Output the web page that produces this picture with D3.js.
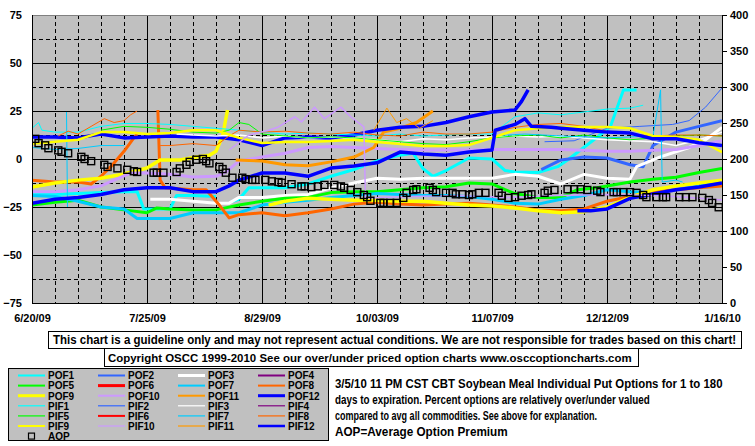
<!DOCTYPE html>
<html><head><meta charset="utf-8">
<script src="https://cdn.jsdelivr.net/npm/d3@7"></script>
<style>
body{margin:0;background:#fff}
text{font-family:Arial,"Liberation Sans",sans-serif;font-weight:bold;fill:#000}
</style></head>
<body><svg id="c" width="755" height="446"></svg>
<script>
// ---------- DATA ----------
const startDate = new Date(2009, 5, 20);
const endDate = new Date(2010, 0, 16);
const xTickDates = ["2009-06-20","2009-07-25","2009-08-29","2009-10-03","2009-11-07","2009-12-12","2010-01-16"];
const xTickLabels = ["6/20/09","7/25/09","8/29/09","10/03/09","11/07/09","12/12/09","1/16/10"];
const leftTicks = [-75,-50,-25,0,25,50,75];
const rightTicks = [0,50,100,150,200,250,300,350,400];

// each series: [days since 6/20/09, percent]; null breaks the line
const POF1 = [[0,-18],[7,-18.5],[14,-18],[21,-17.5],[28,-17],[32,-17],[34,-26],[42,-26],[44,-19],[49,-19],[56,-19.5],[58,null],[61,-22],[63,-21],[66,-15],[77,-15],[84,-13],[91,-9],[98,-5.5],[105,-1],[112,2],[116,3],[119,-5],[122,-9],[126,-6],[133,0.5],[140,0],[144,-6],[147,-6.8],[154,-7],[160,-4],[163,-0.5],[171,10],[176,16.7],[180,36],[184,36]];
const POF2 = [[155,-5.5],[161,-0.5],[168,1],[175,0.5],[182,-3],[186,-4],[189,7],[196,14],[203,17],[210,20]];
const POF3 = [[36,-21],[42,-21],[49,-22],[56,-23],[60,-23],[63,-20],[70,-20],[77,-19],[84,-18.5],[91,-15],[98,-12.5],[105,-10],[112,-10.5],[119,-10],[126,-10],[133,-10],[140,-10],[147,-8],[154,-9],[161,-13],[168,-8],[175,-10],[182,-10.5],[184,-4],[191,1],[200,6],[205,10],[210,16.5]];
const POF5 = [[0,-24],[7,-22.5],[14,-21.5],[21,-25],[28,-26.5],[35,-28],[38,-25.5],[42,-26],[49,-26.5],[56,-26.5],[63,-24],[70,-22],[77,-20.5],[84,-20],[91,-17.5],[98,-17],[105,-17],[112,-16],[119,-15],[126,-14.5],[133,-12.5],[140,-13],[144,-16],[147,-18],[154,-20],[161,-20],[166,-16],[172,-15],[182,-12],[189,-10.5],[196,-9.5],[203,-7],[210,-5]];
const POF7 = [[0,-19],[7,-19.5],[14,-22],[21,-25],[28,-26],[32,-31],[42,-31],[49,-28],[56,-28],[63,-28],[70,-24],[77,-22.5],[84,-21.5],[91,-20],[98,-19],[105,-18],[112,-18.5],[119,-19],[126,-19],[133,-19.5],[140,-21],[147,-23],[154,-23.5],[161,-21],[168,-19],[175,-16],[182,-17],[189,-17.5],[196,-16],[203,-14],[210,-11]];
const POF8 = [[0,-11],[7,-12],[14,-12],[18,-13],[21,-9],[24,-4],[28,4],[31,11],[32,13],[33,null],[38.3,25.5],[39,-11],[40.5,-15],[49,-16],[53,-16],[57,-24],[60,-30.7],[63,-29],[70,-28],[77,-29.5],[84,-28],[91,-26],[98,-23.5],[105,-22.5],[112,-23.5],[119,-24],[126,-23.5],[133,-23],[140,-24],[147,-25],[154,-26.5],[161,-27],[168,-26],[175,-22],[182,-19.5],[189,-17],[196,-16],[203,-15],[210,-14]];
const POF9 = [[0,-14.6],[7,-12.5],[14,-11],[21,-10],[28,-7.8],[35,-4.7],[39,-0.5],[45,-0.5],[50,1],[54,2],[56,4],[58,12],[59.5,25.5],[60,null],[72,-24],[77,-22],[84,-20.5],[91,-21],[98,-21.5],[105,-21.5],[112,-22],[119,-22],[126,-23],[133,-24],[140,-24.5],[147,-25.5],[154,-27],[161,-28],[168,-27.5],[175,-25],[182,-20],[189,-16],[196,-14],[203,-12.5],[210,-11]];
const POF10 = [[0,-17],[7,-17],[14,-16],[21,-14],[25,-11],[30,-7.3],[35,-7.3],[42,-8],[49,-9.4],[56,-9],[59,-6.8],[63,-1],[70,1],[77,3],[84,6],[91,6.5],[98,6],[105,5.5],[112,5],[119,4.7],[126,4.7],[133,4.7],[140,5],[147,5],[154,5],[161,5],[168,4.5],[175,4],[182,4],[189,4.5],[196,5],[203,7],[210,9.5]];
const POF11 = [[62,-0.5],[70,-1],[77,-3],[84,-3.5],[91,-1.5],[98,1],[104,6],[107,14],[112,16],[117,19],[122,25]];
const POF12 = [[0,11.5],[7,11.5],[14,11],[21,13],[28,11],[35,11.5],[42,12],[49,11.5],[56,11.5],[63,10],[70,7],[77,11],[84,11.5],[91,11],[98,12.5],[105,15],[112,16.5],[119,17],[126,19],[133,22],[140,24.5],[147,25.5],[149,30],[151,36],[152,null],[166,-27],[170,-27],[175,-26],[182,-20.5],[189,-18.2],[196,-16],[203,-14.6],[210,-12.5]];

const PIF1 = [[0,16],[2,19],[3,15],[7,14],[14,14],[21,17],[28,18.5],[35,18.5],[42,18],[49,17],[56,16],[63,15],[70,14],[77,13],[84,13.5],[91,13],[98,12.5],[105,12],[112,13],[119,12],[126,12.5],[133,13],[140,13],[147,22],[154,24],[161,23],[168,24.5],[175,26],[182,26.5],[186,28]];
const PIF2 = [[156,9],[165,9.5],[175,16],[185,17],[195,18],[200,20],[205,27],[210,37]];
const PIF3 = [[44,13],[49,12.5],[56,12],[63,12.5],[70,11],[77,12],[84,11],[91,11.5],[98,11],[105,10],[112,9],[119,10.5],[126,10],[133,11],[140,11.5],[147,12],[154,11.5],[161,12],[168,11],[175,10],[182,9.5],[189,9],[196,7],[203,10],[210,14]];
const PIF5 = [[21,15],[28,17],[35,16.5],[42,15.5],[49,14],[56,13.5],[60,15],[63,19],[66,18],[70,13],[77,12],[84,11],[91,11.5],[98,11],[105,10],[112,9],[119,8],[126,7.5],[133,9],[140,11],[147,12],[154,12.5],[161,11],[168,12.5],[175,11],[182,10],[189,11],[196,12],[203,12.5],[210,12]];
const PIF7 = [[0,6],[7,5],[14,5.5],[21,7],[28,7],[29,null],[10.5,24.5],[10.8,-25],[11,null],[140,12],[150,13],[161,12],[175,11],[189,12],[191.3,36],[191.8,-12],[196,-11],[198,-12]];
const PIF8 = [[8,12],[11,14.5],[14,13],[18,17],[22,21],[25,19],[28,20],[30,23],[32,25],[33,null],[39,7],[42,7],[49,8],[56,7],[60,12],[63,15],[70,14],[77,14.5],[84,13.5],[91,13],[98,14],[105,12.5],[112,12],[119,14],[126,13],[133,13],[140,14],[147,16.5],[154,18],[161,18.5],[168,17],[175,14.5],[182,13],[189,12],[196,12.5],[203,12.5],[210,12]];
const PIF9 = [[0,8],[7,9],[14,10],[21,14],[28,14],[35,13],[42,13.5],[49,15],[56,15],[63,11],[70,8.3],[77,8.9],[84,8.9],[91,9.4],[98,10],[105,8.9],[112,7.8],[119,6.8],[126,6.8],[133,7.3],[140,11],[147,15],[154,16],[161,16.7],[168,16.7],[175,16.7],[182,16],[189,12],[196,11.5],[203,10],[210,3.6]];
const PIF10 = [[60,4.7],[66,12.5],[72,15],[75,16.7],[80,22],[82,19.3],[86,27],[89,21],[94,27],[97,22],[101,16.7],[101.5,-20.5],[106,-20],[115,-19.5],[130,-19],[145,-20],[160,-19],[175,-18.5],[190,-19],[200,-20],[210,-21.4]];
const PIF11 = [[104,15],[108,26.5],[111,19],[114,21],[118,16],[122,20]];
const PIF12 = [[0,-23],[7,-21],[14,-20],[21,-18.5],[28,-16],[35,-15],[42,-15],[49,-17],[56,-17],[60,-14],[63,-11],[70,-7.3],[77,-7.3],[84,-9],[91,-4.7],[98,-3.6],[105,-2],[112,3.6],[119,2.6],[126,2],[133,3.6],[140,4.7],[141,15],[147,18],[150,21],[152,17],[158,16.5],[161,16],[168,15],[175,14],[182,13.5],[189,10.5],[196,10.5],[203,8.5],[210,7]];

// Average Option Premium (right axis)
const aopDays = [1,2,4,5,8,9,11,15,16,18,22,23,26,29,31,32,37,38,40,44,45,47,48,50,52,53,54,57,58,59,61,64,65,67,68,71,73,75,76,79,82,83,85,87,89,92,94,95,97,99,101,102,103,106,107,109,111,113,114,116,117,121,122,123,126,128,129,131,133,134,136,138,142,143,145,147,149,151,152,156,157,159,163,165,167,169,172,173,177,178,180,182,184,186,187,190,192,193,197,199,201,204,206,207,209];
const aopValues = [228,222,219,215,212,210,208,203,200,197,192,189,187,185,183,182,181,181,181,182,187,192,196,199,200,197,194,189,186,181,174,174,172,171,171,171,169,168,167,165,162,162,161,162,164,164,162,160,157,154,150,147,142,139,139,139,139,146,153,157,158,160,157,154,153,153,151,151,150,151,153,153,153,149,146,147,149,150,151,153,156,157,158,158,158,157,156,154,154,154,154,154,153,150,147,147,147,147,147,147,147,146,143,139,133];

const legendNames = ["POF1","POF2","POF3","POF4","POF5","POF6","POF7","POF8","POF9","POF10","POF11","POF12",
                     "PIF1","PIF2","PIF3","PIF4","PIF5","PIF6","PIF7","PIF8","PIF9","PIF10","PIF11","PIF12"];
const seriesData = {POF1,POF2,POF3,POF4:[],POF5,POF6:[],POF7,POF8,POF9,POF10,POF11,POF12,
                    PIF1,PIF2,PIF3,PIF4:[],PIF5,PIF6:[],PIF7,PIF8,PIF9,PIF10,PIF11,PIF12};

const disclaimer = "This chart is a guideline only and may not represent actual conditions. We are not responsible for trades based on this chart!";
const copyright = "Copyright OSCC 1999-2010 See our over/under priced option charts www.osccoptioncharts.com";
const noteLines = ["3/5/10 11 PM CST CBT Soybean Meal Individual Put Options for 1 to 180",
                   "days to expiration. Percent options are relatively over/under valued",
                   "compared to avg all commodities. See above for explanation.",
                   "AOP=Average Option Premium"];

// ---------- STYLE ----------
const palette = ["#00FFFF","#3366FF","#FFFFFF","#800080","#00FF00","#FF0000","#00CCFF","#FF6600","#FFFF00","#CC99FF","#FF9900","#0000FF"];
const plotWidthPOF = 3, plotWidthPIF = 1;
const wideSeries = {POF12:3.5, PIF12:3.5, POF9:3.5, PIF9:2.5, PIF10:1.5, PIF3:1.5};
const legendW = {POF3:3,POF6:3,POF9:3,POF12:3,PIF6:2,PIF9:2,PIF12:2.5};

// ---------- CHART ----------
const L = 32, R = 722, T = 15, B = 303;
const svg = d3.select("#c");
const dayToDate = d => new Date(+startDate + d * 864e5);
const x = d3.scaleTime().domain([startDate, endDate]).range([L, R]);
const y = d3.scaleLinear().domain([-75, 75]).range([B, T]);
const yR = d3.scaleLinear().domain([0, 400]).range([B, T]);

svg.append("rect").attr("x", L).attr("y", T).attr("width", R - L).attr("height", B - T).attr("fill", "#C0C0C0");

const grid = svg.append("g").attr("shape-rendering", "crispEdges");
grid.selectAll(".h").data(d3.range(-62.5, 75, 12.5)).join("line")
  .attr("x1", L).attr("x2", R)
  .attr("y1", d => Math.round(y(d)) + 0.5).attr("y2", d => Math.round(y(d)) + 0.5)
  .attr("stroke", "#000").attr("stroke-width", 1)
  .attr("stroke-dasharray", d => d % 25 === 0 ? null : "4,3");
grid.selectAll(".v").data(d3.range(1, 30)).join("line")
  .attr("x1", i => Math.round(x(dayToDate(7 * i))) + 0.5).attr("x2", i => Math.round(x(dayToDate(7 * i))) + 0.5)
  .attr("y1", T).attr("y2", B)
  .attr("stroke", "#000").attr("stroke-width", 1)
  .attr("stroke-dasharray", i => i % 5 === 0 ? null : "4,3");

svg.append("clipPath").attr("id", "clip").append("rect")
  .attr("x", L).attr("y", T).attr("width", R - L).attr("height", B - T);

const line = d3.line().defined(d => d[1] != null)
  .x(d => x(dayToDate(d[0]))).y(d => y(d[1]));

const plotG = svg.append("g").attr("clip-path", "url(#clip)");
legendNames.forEach((name, k) => {
  const data = seriesData[name];
  if (!data.length) return;
  const isPOF = name.startsWith("POF");
  plotG.append("path").datum(data)
    .attr("d", line).attr("fill", "none")
    .attr("stroke", palette[k % 12])
    .attr("stroke-width", wideSeries[name] || (isPOF ? plotWidthPOF : plotWidthPIF))
    .attr("stroke-linejoin", "round");
});

// AOP squares
plotG.append("g").selectAll("rect").data(aopDays.map((d, i) => [d, aopValues[i]])).join("rect")
  .attr("x", d => x(dayToDate(d[0])) - 3.5).attr("y", d => yR(d[1]) - 3.5)
  .attr("width", 7).attr("height", 7)
  .attr("fill", "none").attr("stroke", "#000").attr("stroke-width", 1.4);

// frame
const frame = svg.append("g").attr("shape-rendering", "crispEdges");
frame.append("line").attr("x1", L).attr("x2", R).attr("y1", T + 0.5).attr("y2", T + 0.5).attr("stroke", "#808080");
frame.append("line").attr("x1", L).attr("x2", R).attr("y1", B + 0.5).attr("y2", B + 0.5).attr("stroke", "#000");
frame.append("line").attr("x1", L + 0.5).attr("x2", L + 0.5).attr("y1", T).attr("y2", B + 1).attr("stroke", "#000");
frame.append("line").attr("x1", R + 0.5).attr("x2", R + 0.5).attr("y1", T).attr("y2", B + 1).attr("stroke", "#000");

// axes
const axL = svg.append("g").attr("transform", `translate(${L},0)`)
  .call(d3.axisLeft(y).tickValues(leftTicks).tickSize(0).tickPadding(10));
const axR = svg.append("g").attr("transform", `translate(${R},0)`)
  .call(d3.axisRight(yR).tickValues(rightTicks).tickSize(5).tickPadding(3));
const axB = svg.append("g").attr("transform", `translate(0,${B})`)
  .call(d3.axisBottom(x).tickValues(xTickDates.map(s => new Date(s + "T00:00:00")))
    .tickFormat((d, i) => xTickLabels[i]).tickSize(0).tickPadding(11));
[axL, axR, axB].forEach(a => {
  a.select(".domain").remove();
  a.selectAll("text").attr("font-size", 11).attr("font-weight", "bold")
    .attr("font-family", "Arial, 'Liberation Sans', sans-serif").attr("fill", "#000");
  a.selectAll("line").attr("stroke", "#000").attr("shape-rendering", "crispEdges");
});

// text squeezed horizontally to a target width (keeps glyph height)
function fitText(parent, str, x0, y0, size, width) {
  const t = parent.append("text").attr("font-size", size).text(str);
  const w = t.node().getComputedTextLength();
  const s = Math.min(1, width / w);
  t.attr("transform", `translate(${x0},${y0}) scale(${s},1)`);
  return t;
}

// disclaimer boxes
const boxes = svg.append("g").attr("shape-rendering", "crispEdges");
boxes.append("rect").attr("x", 48.5).attr("y", 331.5).attr("width", 693).attr("height", 17)
  .attr("fill", "#fff").attr("stroke", "#000");
boxes.append("rect").attr("x", 104.5).attr("y", 348.5).attr("width", 534).attr("height", 18)
  .attr("fill", "#fff").attr("stroke", "#000");
fitText(svg, disclaimer, 53, 344, 12.5, 684);
fitText(svg, copyright, 108, 361.5, 11.5, 524);

// legend
const lg = svg.append("g");
lg.append("rect").attr("x", 8.5).attr("y", 368.5).attr("width", 320).attr("height", 72)
  .attr("fill", "#C0C0C0").attr("stroke", "#000").attr("shape-rendering", "crispEdges");
legendNames.forEach((name, k) => {
  const row = Math.floor(k / 4), col = k % 4;
  const cy = 375.5 + row * 10.1, lx = 18 + col * 80;
  lg.append("line").attr("x1", lx).attr("x2", lx + 27).attr("y1", cy).attr("y2", cy)
    .attr("stroke", palette[k % 12])
    .attr("stroke-width", legendW[name] || (name.startsWith("POF") ? 2 : 1.2));
  lg.append("text").attr("x", lx + 30).attr("y", cy + 3.8).attr("font-size", 10).text(name);
});
const aopY = 375.5 + 6 * 10.1;
lg.append("rect").attr("x", 28.5).attr("y", aopY - 3).attr("width", 6).attr("height", 6)
  .attr("fill", "none").attr("stroke", "#000").attr("stroke-width", 1.2);
lg.append("text").attr("x", 48).attr("y", aopY + 3.8).attr("font-size", 10).text("AOP");

// note text
const noteWidths = [388, 315, 262, 173];
const noteY = [388, 404, 420, 435.5];
noteLines.forEach((t, i) => fitText(svg, t, 335, noteY[i], 12, noteWidths[i]));
</script></body></html>
